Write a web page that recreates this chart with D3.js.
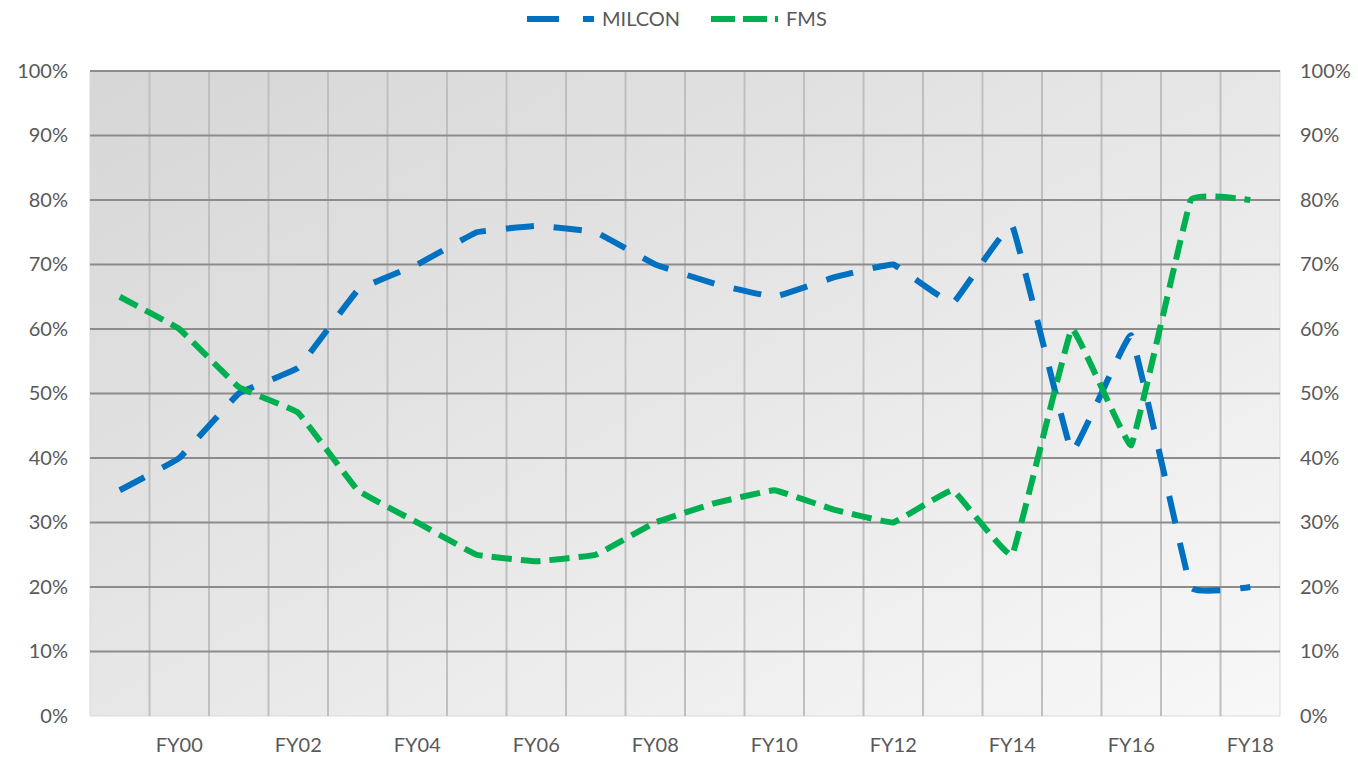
<!DOCTYPE html>
<html lang="en">
<head>
<meta charset="UTF-8">
<title>MILCON vs FMS</title>
<script src="https://d3js.org/d3.v7.min.js"></script>
<style>
    body { margin: 0; background: #fff; font-family: Lato, "Open Sans", sans-serif; }
    text { fill: #595959; font-size: 20px; }
</style>
</head>
<body>
<div id="chart"></div>
<script>
    const years = ["FY99", "FY00", "FY01", "FY02", "FY03", "FY04", "FY05", "FY06", "FY07", "FY08",
        "FY09", "FY10", "FY11", "FY12", "FY13", "FY14", "FY15", "FY16", "FY17", "FY18"];
    const milcon = [35, 40, 50, 54, 66, 70, 75, 76, 75, 70, 67, 65, 68, 70, 64, 76, 41, 59, 20, 20];
    const fms = [65, 60, 51, 47, 35, 30, 25, 24, 25, 30, 33, 35, 32, 30, 35, 25, 60, 42, 80, 80];
    const yTicks = [0, 10, 20, 30, 40, 50, 60, 70, 80, 90, 100];
    const xLabels = ["FY00", "FY02", "FY04", "FY06", "FY08", "FY10", "FY12", "FY14", "FY16", "FY18"];

    const W = 1358, H = 765;
    const margin = { top: 71, right: 78, bottom: 49, left: 90 };
    const width = W - margin.left - margin.right,
        height = H - margin.top - margin.bottom;

    const svg = d3.select("#chart").append("svg")
        .attr("width", W).attr("height", H);

    const defs = svg.append("defs");
    const grad = defs.append("linearGradient").attr("id", "bg")
        .attr("x1", "0%").attr("y1", "0%").attr("x2", "100%").attr("y2", "100%");
    grad.append("stop").attr("offset", "0%").attr("stop-color", "#d6d6d6");
    grad.append("stop").attr("offset", "100%").attr("stop-color", "#f8f8f8");

    const g = svg.append("g").attr("transform", `translate(${margin.left},${margin.top})`);

    const x = d3.scaleBand().domain(years).range([0, width]);
    const y = d3.scaleLinear().domain([0, 100]).range([height, 0]);

    // plot area
    g.append("rect").attr("width", width).attr("height", height)
        .attr("fill", "url(#bg)").attr("stroke", "#d9d9d9");

    // vertical gridlines at category boundaries
    g.append("g").selectAll("line").data(years.slice(1)).join("line")
        .attr("x1", d => x(d)).attr("x2", d => x(d))
        .attr("y1", 0).attr("y2", height)
        .attr("stroke", "#bfbfbf").attr("stroke-width", 2);

    // horizontal gridlines
    g.append("g").selectAll("line").data(yTicks.filter(d => d > 0)).join("line")
        .attr("x1", 0).attr("x2", width)
        .attr("y1", d => y(d)).attr("y2", d => y(d))
        .attr("stroke", "#8c8c8c").attr("stroke-width", 2);

    // left and right axes
    const fmt = d => d + "%";
    const left = g.append("g").call(d3.axisLeft(y).tickValues(yTicks).tickFormat(fmt).tickSize(0).tickPadding(22));
    const right = g.append("g").attr("transform", `translate(${width},0)`)
        .call(d3.axisRight(y).tickValues(yTicks).tickFormat(fmt).tickSize(0).tickPadding(20));
    const bottom = g.append("g").attr("transform", `translate(0,${height})`)
        .call(d3.axisBottom(x).tickValues(xLabels).tickSize(0).tickPadding(22));
    [left, right, bottom].forEach(a => {
        a.select(".domain").remove();
        a.selectAll("text").attr("fill", "#595959").style("font-size", "20px")
            .style("font-family", "Lato, 'Open Sans', sans-serif");
    });

    // Excel-ish smoothed line, kept fairly tight
    const line = d3.line()
        .x((d, i) => x(years[i]) + x.bandwidth() / 2)
        .y(d => y(d))
        .curve(d3.curveCardinal.tension(0.8));

    const series = [
        { name: "MILCON", values: milcon, color: "#0070c0", dash: "28 20" },
        { name: "FMS", values: fms, color: "#00b050", dash: "20 9" }
    ];

    series.forEach(s => {
        g.append("path").datum(s.values)
            .attr("d", line)
            .attr("fill", "none")
            .attr("stroke", s.color)
            .attr("stroke-width", 6)
            .attr("stroke-dasharray", s.dash);
    });

    // legend
    const legend = svg.append("g").attr("transform", "translate(527,19)");
    const legendX = [0, 184];
    series.forEach((s, i) => {
        const lg = legend.append("g").attr("transform", `translate(${legendX[i]},0)`);
        lg.append("line").attr("x1", 0).attr("x2", 67).attr("y1", 0).attr("y2", 0)
            .attr("stroke", s.color).attr("stroke-width", 6)
            .attr("stroke-dasharray", i === 0 ? "32 24" : "24 8");
        lg.append("text").attr("x", 75).attr("y", 0).attr("dy", "0.35em").text(s.name);
    });
</script>
</body>
</html>
